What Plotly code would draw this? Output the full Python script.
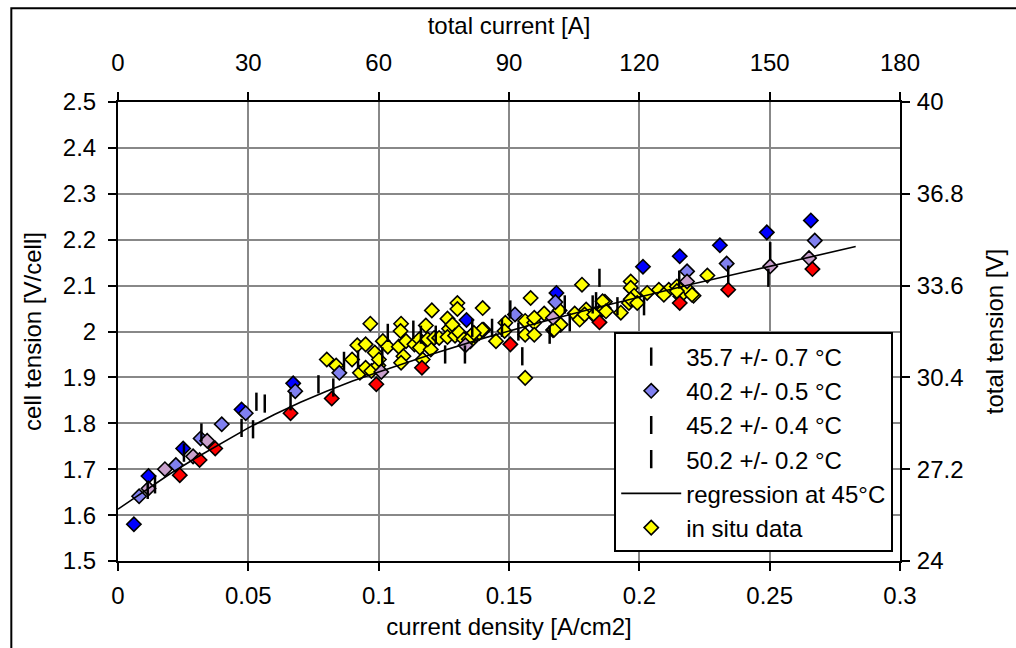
import plotly.graph_objects as go

# ---------------- data ----------------
# 35.7 °C series (dark blue diamonds)
x_357 = [0.0061, 0.0117, 0.025, 0.0474, 0.0672, 0.1337, 0.1682, 0.2014, 0.2155, 0.2309, 0.2489, 0.2658]
y_357 = [1.580, 1.685, 1.745, 1.830, 1.887, 2.025, 2.084, 2.141, 2.164, 2.188, 2.216, 2.242]
# 40.2 °C series (light blue diamonds)
x_402 = [0.0081, 0.0222, 0.0317, 0.0398, 0.049, 0.068, 0.0849, 0.1523, 0.1678, 0.2183, 0.2335, 0.2673]
y_402 = [1.641, 1.709, 1.767, 1.798, 1.822, 1.870, 1.910, 2.037, 2.064, 2.131, 2.148, 2.198]
# 45.2 °C series (mauve diamonds)
x_452 = [0.0117, 0.018, 0.0288, 0.0342, 0.101, 0.1333, 0.1669, 0.2183, 0.2502, 0.2651]
y_452 = [1.658, 1.700, 1.728, 1.762, 1.912, 1.970, 2.030, 2.109, 2.142, 2.160]
# 50.2 °C series (red diamonds)
x_502 = [0.0237, 0.0313, 0.0373, 0.0662, 0.082, 0.0991, 0.1166, 0.1505, 0.1847, 0.2155, 0.2341, 0.2664]
y_502 = [1.687, 1.720, 1.745, 1.822, 1.854, 1.885, 1.921, 1.972, 2.020, 2.062, 2.091, 2.136]
# vertical bar markers
x_bar = [0.0142, 0.0114, 0.0253, 0.032, 0.0474, 0.0518, 0.0531, 0.0563, 0.0662, 0.0769, 0.0826,
         0.0867, 0.0921, 0.1035, 0.1014, 0.1133, 0.1162, 0.1219, 0.1255, 0.1331, 0.1359, 0.1435,
         0.1505, 0.1536, 0.1551, 0.1473, 0.1656, 0.1733, 0.1714, 0.1821, 0.1847, 0.2018, 0.1916,
         0.1834, 0.2153, 0.2341, 0.2502, 0.2495]
y_bar = [1.667, 1.655, 1.736, 1.780, 1.790, 1.787, 1.847, 1.843, 1.848, 1.885, 1.878,
         1.936, 1.939, 1.997, 1.946, 2.004, 1.993, 1.993, 1.950, 1.950, 2.008, 2.008,
         2.048, 2.000, 1.946, 2.008, 1.993, 2.020, 2.059, 2.059, 2.117, 2.055, 2.055,
         2.066, 2.113, 2.124, 2.175, 2.117]
# regression at 45 °C
x_reg = [0, 0.01, 0.02, 0.03, 0.04, 0.05, 0.06, 0.07, 0.08, 0.09, 0.10, 0.12, 0.14, 0.16,
         0.18, 0.20, 0.22, 0.24, 0.26, 0.283]
y_reg = [1.613, 1.652, 1.690, 1.725, 1.758, 1.790, 1.819, 1.846, 1.870, 1.892, 1.912, 1.950,
         1.985, 2.017, 2.047, 2.075, 2.103, 2.129, 2.155, 2.185]
# in situ data (yellow diamonds)
x_situ = [0.0968, 0.0801, 0.0837, 0.0898, 0.0918, 0.095, 0.0928, 0.095, 0.0972, 0.0985, 0.0999,
          0.1016, 0.1035, 0.1001, 0.1086, 0.1084, 0.1077, 0.1095, 0.1086, 0.1105, 0.1137, 0.1156,
          0.1169, 0.1181, 0.1158, 0.12, 0.1204, 0.1188, 0.1213, 0.1232, 0.1264, 0.127, 0.1264,
          0.1283, 0.1302, 0.1302, 0.1293, 0.1308, 0.1327, 0.1352, 0.1371, 0.1386, 0.1403, 0.1399,
          0.145, 0.1486, 0.1483, 0.1562, 0.1583, 0.1562, 0.1562, 0.1597, 0.1597,
          0.178, 0.1868, 0.1967, 0.1967, 0.198, 0.203, 0.2075, 0.2113, 0.2144, 0.2183, 0.2261,
          0.1929, 0.196, 0.1796, 0.1752, 0.1669, 0.1698, 0.1694, 0.1635, 0.1597, 0.183, 0.1771,
          0.1863, 0.2094, 0.2157, 0.2208, 0.1673, 0.179, 0.1827, 0.1865, 0.1967, 0.1346, 0.1397,
          0.1365, 0.2202, 0.2144, 0.1859, 0.1872, 0.1992]
y_situ = [2.017, 1.939, 1.926, 1.939, 1.970, 1.972, 1.910, 1.921, 1.914, 1.954, 1.926,
          1.979, 1.967, 1.939, 2.017, 2.001, 1.967, 1.946, 1.932, 1.979, 1.972, 1.983,
          1.939, 2.013, 1.965, 1.961, 2.046, 1.983, 1.986, 1.986, 2.028, 2.006, 1.988,
          2.015, 2.062, 2.049, 1.991, 1.998, 1.983, 1.979, 1.991, 1.997, 2.004, 2.051,
          1.979, 2.019, 2.001, 1.899, 2.073, 2.023, 1.993, 2.019, 1.993,
          2.102, 2.065, 2.109, 2.095, 2.078, 2.084, 2.091, 2.091, 2.098, 2.093, 2.122,
          2.041, 2.062, 2.048, 2.039, 2.003, 2.015, 2.046, 2.039, 2.030, 2.033, 2.026,
          2.051, 2.080, 2.077, 2.078, 2.004, 2.037, 2.037, 2.048, 2.070, 1.983, 2.004,
          1.997, 2.080, 2.088, 2.066, 2.044, 2.062]

top_range = [0, 180]
right_range = [24, 40]
right_ticks = [24, 27.2, 30.4, 33.6, 36.8, 40]

names = ["35.7 +/- 0.7 °C", "40.2 +/- 0.5 °C", "45.2 +/- 0.4 °C", "50.2 +/- 0.2 °C",
         "regression at 45°C", "in situ data"]

FONT = "Liberation Sans, Arial, sans-serif"
FS = 24

fig = go.Figure()

def diamonds(x, y, color, name, showlegend, rank, group):
    return go.Scatter(x=x, y=y, mode="markers", name=name, showlegend=showlegend,
                      legendrank=rank, legendgroup=group,
                      marker=dict(symbol="diamond", size=11, color=color,
                                  line=dict(color="black", width=1.6)))

# in situ first (drawn below)
fig.add_trace(diamonds(x_situ, y_situ, "#FFFF00", names[5], True, 6, "g6"))
fig.add_trace(diamonds(x_357, y_357, "#0000FF", names[0], False, 1, "g1"))
fig.add_trace(diamonds(x_402, y_402, "#8080F0", names[1], True, 2, "g2"))
fig.add_trace(diamonds(x_452, y_452, "#C8A0CC", names[2], False, 3, "g3"))
fig.add_trace(diamonds(x_502, y_502, "#FF0000", names[3], False, 4, "g4"))

bar_marker = dict(symbol="line-ns", size=13, color="black", line=dict(color="black", width=2.5))
fig.add_trace(go.Scatter(x=x_bar, y=y_bar, mode="markers", name=names[0], legendrank=1,
                         legendgroup="g1", marker=bar_marker))
fig.add_trace(go.Scatter(x=[None], y=[None], mode="markers", name=names[2], legendrank=3,
                         legendgroup="g3", marker=bar_marker))
fig.add_trace(go.Scatter(x=[None], y=[None], mode="markers", name=names[3], legendrank=4,
                         legendgroup="g4", marker=bar_marker))

fig.add_trace(go.Scatter(x=x_reg, y=y_reg, mode="lines", name=names[4], legendrank=5,
                         legendgroup="g5", line=dict(color="black", width=1.6)))

# invisible trace so the secondary axes are drawn
fig.add_trace(go.Scatter(x=top_range, y=right_range, xaxis="x2", yaxis="y2", mode="markers",
                         marker=dict(opacity=0), showlegend=False, hoverinfo="skip"))

def axis_common():
    return dict(showline=True, linecolor="black", linewidth=2, ticks="outside",
                ticklen=8, tickwidth=2, tickcolor="black",
                tickfont=dict(family=FONT, size=FS, color="black"), zeroline=False)

# plot area lands at about x 116..905, y 102..562 on screen
L, T, PW, PH = 118, 102, 799, 460

fig.update_layout(
    width=1016, height=648, autosize=False,
    paper_bgcolor="white", plot_bgcolor="white",
    margin=dict(l=L, r=1016 - L - PW, t=T, b=648 - T - PH),
    font=dict(family=FONT, size=FS, color="black"),
    xaxis=dict(range=[0, 0.3], dtick=0.05, tick0=0, showgrid=True, gridcolor="#888888",
               gridwidth=1.5, ticklabelstandoff=4,
               title=dict(text="current density [A/cm2]", standoff=10,
                          font=dict(family=FONT, size=FS)), **axis_common()),
    yaxis=dict(range=[1.5, 2.5], dtick=0.1, tick0=1.5, showgrid=True, gridcolor="#888888",
               gridwidth=1.5, ticklabelstandoff=7,
               title=dict(text="cell tension [V/cell]", standoff=14,
                          font=dict(family=FONT, size=FS)), **axis_common()),
    xaxis2=dict(range=top_range, dtick=30, tick0=0, overlaying="x", side="top",
                showgrid=False, ticklabelstandoff=11,
                title=dict(text="total current [A]", standoff=8,
                           font=dict(family=FONT, size=FS)), **axis_common()),
    yaxis2=dict(range=right_range, tickvals=right_ticks, ticktext=[f"{v:g}" for v in right_ticks],
                overlaying="y", side="right", showgrid=False, ticklabelstandoff=2,
                title=dict(text="total tension [V]", standoff=24,
                           font=dict(family=FONT, size=FS)), **axis_common()),
    legend=dict(x=(625 - L) / PW, y=1 - (333 - 102) / PH, xanchor="left", yanchor="top",
                bgcolor="white", bordercolor="black", borderwidth=2,
                font=dict(family=FONT, size=FS, color="black"),
                traceorder="grouped", tracegroupgap=0, itemwidth=60),
    showlegend=True,
    shapes=[dict(type="rect", xref="paper", yref="paper",
                 x0=(9 - L) / PW, x1=(1040 - L) / PW, y0=-0.3, y1=1 + (T - 8) / PH,
                 line=dict(color="black", width=2), fillcolor="rgba(0,0,0,0)", layer="below")],
)

fig.write_html("out.html", config={"displayModeBar": False, "responsive": False},
               post_script="document.body.style.margin='0';"
                           "document.documentElement.style.overflow='hidden';"
                           "document.body.style.overflow='hidden';")
